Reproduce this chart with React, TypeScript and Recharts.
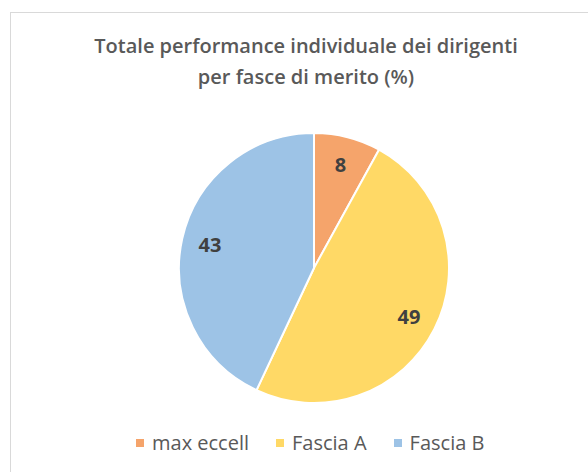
import React from 'react';
import { PieChart, Pie, Cell } from 'recharts';

const categories = ['max eccell', 'Fascia A', 'Fascia B'];
const values = [8, 49, 43];
const colors = ['#F5A46B', '#FFD966', '#9DC3E6'];

const chartData = categories.map((name, i) => ({ name, value: values[i] }));

const RADIAN = Math.PI / 180;

const renderLabel = (props: any) => {
    const { cx, cy, midAngle, outerRadius, value } = props;
    const r = outerRadius * 0.79;
    const x = cx + r * Math.cos(-midAngle * RADIAN);
    const y = cy + r * Math.sin(-midAngle * RADIAN);
    return (
        <text
            x={x}
            y={y}
            fill="#404040"
            fontSize={20}
            fontWeight={700}
            fontFamily="'Open Sans', sans-serif"
            textAnchor="middle"
            dominantBaseline="central"
        >
            {value}
        </text>
    );
};

export default function App() {
    return (
        <div
            style={{
                position: 'absolute',
                left: 10,
                top: 12,
                width: 577,
                height: 460,
                borderLeft: '1px solid #D9D9D9',
                borderTop: '1px solid #D9D9D9',
                background: '#fff',
                overflow: 'hidden',
            }}
        >
            <div
                style={{
                    position: 'absolute',
                    top: 17,
                    left: 0,
                    width: 590,
                    textAlign: 'center',
                    color: '#595959',
                    fontSize: 20,
                    fontWeight: 600,
                    lineHeight: '31px',
                    fontFamily: "'Open Sans', sans-serif",
                }}
            >
                Totale performance individuale dei dirigenti
                <br />
                per fasce di merito (%)
            </div>
            <PieChart width={577} height={460} margin={{ top: 0, right: 0, bottom: 0, left: 0 }}>
                <Pie
                    data={chartData}
                    dataKey="value"
                    nameKey="name"
                    cx={303}
                    cy={255}
                    outerRadius={135}
                    startAngle={90}
                    endAngle={-270}
                    stroke="#ffffff"
                    strokeWidth={2}
                    label={renderLabel}
                    labelLine={false}
                    isAnimationActive={false}
                >
                    {chartData.map((d, i) => (
                        <Cell key={d.name} fill={colors[i]} />
                    ))}
                </Pie>
            </PieChart>
            <div
                style={{
                    position: 'absolute',
                    top: 416,
                    left: 125,
                    display: 'flex',
                    alignItems: 'center',
                    lineHeight: '28px',
                }}
            >
                {categories.map((name, i) => (
                    <div key={name} style={{ display: 'flex', alignItems: 'center', marginRight: 27 }}>
                        <span style={{ width: 8, height: 8, backgroundColor: colors[i], marginRight: 8, display: 'inline-block' }} />
                        <span style={{ color: '#595959', fontSize: 20, fontFamily: "'Open Sans', sans-serif" }}>{name}</span>
                    </div>
                ))}
            </div>
        </div>
    );
}
